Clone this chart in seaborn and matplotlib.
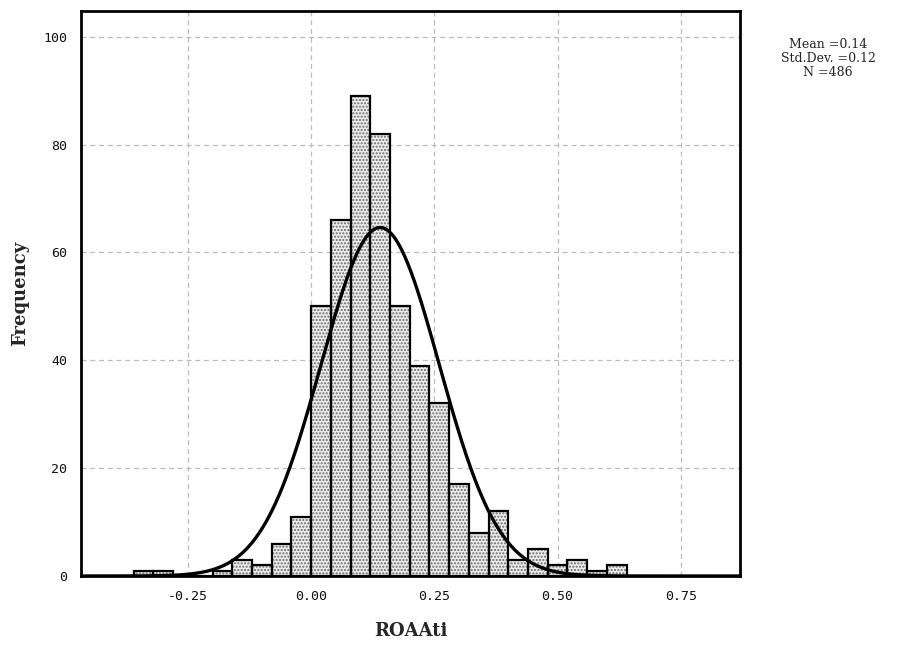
import numpy as np
import pandas as pd
import matplotlib
matplotlib.use("Agg")
import matplotlib.pyplot as plt
import seaborn as sns

# Histogram data (bin edges every 0.04)
bin_left = [-0.36, -0.32, -0.28, -0.24, -0.20, -0.16, -0.12, -0.08, -0.04,
            0.00, 0.04, 0.08, 0.12, 0.16, 0.20, 0.24, 0.28, 0.32, 0.36,
            0.40, 0.44, 0.48, 0.52, 0.56, 0.60]
counts = [1, 1, 0, 0, 1, 3, 2, 6, 11,
          50, 66, 89, 82, 50, 39, 32, 17, 8, 12,
          3, 5, 2, 3, 1, 2]
bin_width = 0.04
mean_val = 0.14
std_val = 0.12
n_val = 486
x_ticks = [-0.25, 0.00, 0.25, 0.50, 0.75]
y_ticks = [0, 20, 40, 60, 80, 100]

edges = [round(b, 4) for b in bin_left] + [round(bin_left[-1] + bin_width, 4)]
df = pd.DataFrame({"x": np.array(bin_left) + bin_width / 2, "w": counts})

sns.set_style("white")
plt.rcParams['font.family'] = ['DejaVu Sans']
plt.rcParams['hatch.linewidth'] = 1.0

fig = plt.figure(figsize=(9.15, 6.51), dpi=100)
ax = fig.add_axes([0.0885, 0.1152, 0.7202, 0.868])

ax.set_axisbelow(True)
for t in y_ticks[1:]:
    ax.axhline(t, color='#bdbdbd', lw=0.9, ls=(0, (4, 3)), zorder=0)
for t in x_ticks:
    ax.axvline(t, color='#bdbdbd', lw=0.9, ls=(0, (4, 3)), zorder=0)

# hatched fill
sns.histplot(data=df, x="x", weights="w", bins=edges, ax=ax,
             stat="count", fill=True, facecolor='#ececec', edgecolor='#6a6a6a',
             hatch='.....', linewidth=0, alpha=1, zorder=2)
# black outlines
sns.histplot(data=df, x="x", weights="w", bins=edges, ax=ax,
             stat="count", fill=False, color='black', linewidth=1.6, zorder=3)

# normal curve
xs = np.linspace(-0.467, 0.87, 600)
ys = n_val * bin_width / (std_val * np.sqrt(2 * np.pi)) * np.exp(-0.5 * ((xs - mean_val) / std_val) ** 2)
sns.lineplot(x=xs, y=ys, ax=ax, color='black', linewidth=2.4, zorder=4)

ax.set_xlim(-0.467, 0.87)
ax.set_ylim(0, 104.8)
ax.set_xticks(x_ticks)
ax.set_xticklabels([f"{t:.2f}" for t in x_ticks], family='DejaVu Sans Mono', fontsize=9.5, color='#111111')
ax.set_yticks(y_ticks)
ax.set_yticklabels([str(t) for t in y_ticks], family='DejaVu Sans Mono', fontsize=9.5, color='#111111')
ax.tick_params(axis='both', direction='out', length=6, width=1.5, color='black', pad=4)
for s in ax.spines.values():
    s.set_color('black')
    s.set_linewidth(2)

ax.set_xlabel("ROAAti", family='DejaVu Serif', fontweight='bold', fontsize=13, labelpad=14)
ax.set_ylabel("Frequency", family='DejaVu Serif', fontweight='bold', fontsize=13, labelpad=10)

fig.text(0.905, 0.942, f"Mean =0.14\nStd.Dev. =0.12\nN =486", ha='center', va='top',
         family='DejaVu Serif', fontsize=9, linespacing=1.1)

fig.savefig("out.png", dpi=100)
